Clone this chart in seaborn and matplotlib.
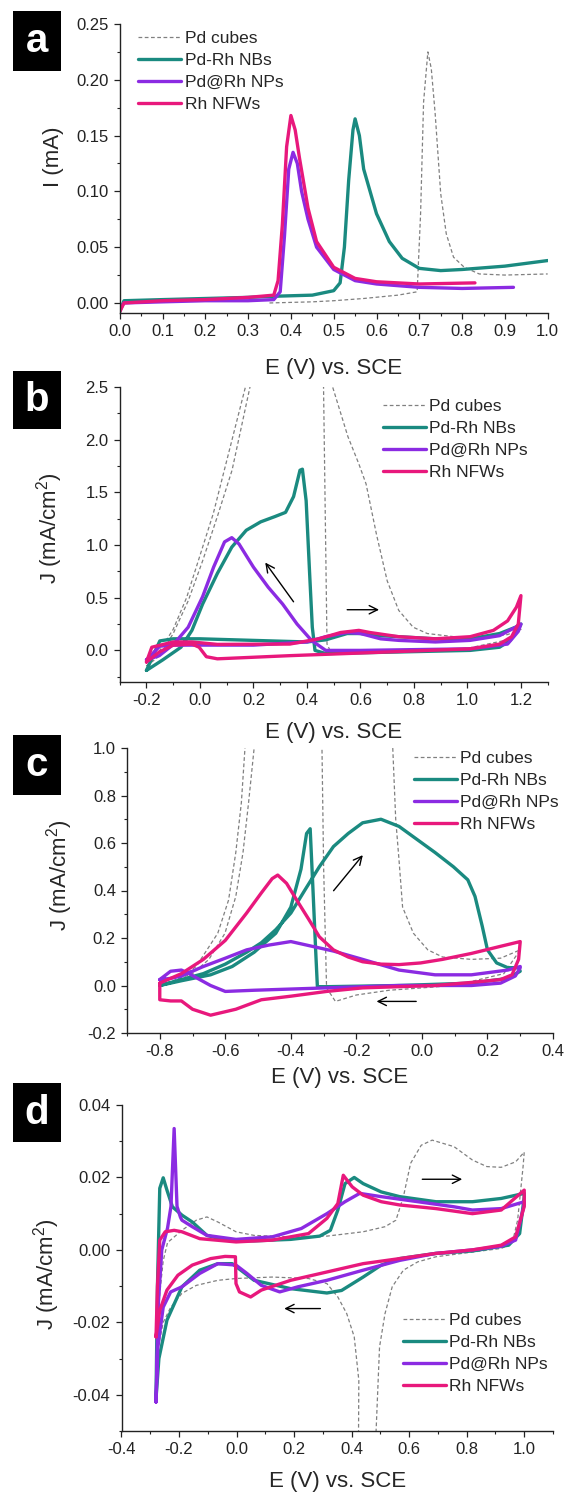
import matplotlib
matplotlib.use("Agg")
import matplotlib.pyplot as plt
from matplotlib.ticker import MultipleLocator, FormatStrFormatter
from matplotlib.patches import Rectangle
import seaborn as sns

# ---- panel a : linear sweeps ----
a_pd_E = [0.35, 0.45, 0.5, 0.57, 0.65, 0.695, 0.703, 0.71, 0.72, 0.728, 0.737, 0.75, 0.763, 0.78, 0.805, 0.84, 0.9, 1.0]
a_pd_I = [0.0, 0.001, 0.002, 0.004, 0.007, 0.01, 0.08, 0.18, 0.225, 0.21, 0.17, 0.098, 0.062, 0.041, 0.032, 0.026, 0.025, 0.026]
a_nb_E = [0.0, 0.01, 0.1, 0.2, 0.3, 0.36, 0.45, 0.5, 0.515, 0.525, 0.535, 0.545, 0.55, 0.56, 0.57, 0.6, 0.63, 0.66, 0.7, 0.75, 0.8, 0.9, 1.0]
a_nb_I = [-0.008, 0.002, 0.003, 0.004, 0.005, 0.006, 0.007, 0.011, 0.018, 0.05, 0.11, 0.155, 0.165, 0.15, 0.12, 0.08, 0.055, 0.04, 0.031, 0.029, 0.030, 0.033, 0.038]
a_np_E = [0.0, 0.01, 0.1, 0.2, 0.3, 0.36, 0.375, 0.385, 0.395, 0.405, 0.415, 0.425, 0.44, 0.46, 0.5, 0.55, 0.6, 0.7, 0.8, 0.92]
a_np_I = [-0.006, 0.0, 0.001, 0.002, 0.002, 0.003, 0.01, 0.06, 0.12, 0.135, 0.125, 0.1, 0.075, 0.05, 0.03, 0.02, 0.017, 0.014, 0.013, 0.014]
a_rh_E = [0.0, 0.01, 0.1, 0.2, 0.3, 0.36, 0.37, 0.38, 0.39, 0.40, 0.41, 0.42, 0.44, 0.46, 0.5, 0.55, 0.6, 0.7, 0.83]
a_rh_I = [-0.008, 0.0, 0.002, 0.003, 0.005, 0.007, 0.02, 0.07, 0.14, 0.168, 0.155, 0.13, 0.085, 0.055, 0.032, 0.022, 0.019, 0.017, 0.018]

# ---- panel b : CV ----
b_pd_E = [-0.2, -0.15, -0.1, -0.044, 0.01, 0.065, 0.12, 0.187, 0.3, 0.4, 0.496, 0.553, 0.594, 0.621, 0.66, 0.70, 0.743, 0.797, 0.85, 0.95, 1.05, 1.15, 1.2,
          1.15, 1.0, 0.8, 0.6, 0.49, 0.475, 0.462, 0.4, 0.3, 0.17, 0.11, 0.05, 0.0, -0.05, -0.1, -0.15, -0.2]
b_pd_J = [-0.15, -0.05, 0.16, 0.47, 0.85, 1.27, 1.71, 2.5, 4.0, 4.0, 2.5, 2.03, 1.77, 1.58, 1.1, 0.66, 0.38, 0.22, 0.16, 0.13, 0.12, 0.15, 0.2,
          0.1, 0.02, 0.0, -0.02, -0.02, 0.06, 2.5, 4.0, 4.0, 2.5, 1.9, 1.3, 0.9, 0.5, 0.2, 0.0, -0.15]
b_nb_E = [-0.2, -0.15, -0.1, 0.0, 0.2, 0.4, 0.47, 0.55, 0.6, 0.675, 0.743, 0.88, 1.01, 1.12, 1.18, 1.2,
          1.19, 1.16, 1.12, 1.01, 0.743, 0.47, 0.43, 0.42, 0.41, 0.397, 0.383, 0.374, 0.35, 0.32, 0.28, 0.227, 0.173, 0.119, 0.065, 0.01, -0.03, -0.071, -0.139, -0.2]
b_nb_J = [-0.19, 0.09, 0.11, 0.11, 0.095, 0.08, 0.1, 0.16, 0.16, 0.14, 0.13, 0.11, 0.11, 0.16, 0.22, 0.25,
          0.2, 0.095, 0.03, 0.0, -0.015, -0.03, 0.0, 0.22, 0.73, 1.42, 1.72, 1.71, 1.46, 1.31, 1.27, 1.22, 1.14, 0.98, 0.73, 0.44, 0.19, 0.03, -0.09, -0.19]
b_np_E = [-0.2, -0.15, -0.1, 0.0, 0.2, 0.4, 0.47, 0.55, 0.6, 0.675, 0.743, 0.88, 1.01, 1.12, 1.18, 1.2,
          1.19, 1.15, 1.01, 0.6, 0.47, 0.417, 0.363, 0.309, 0.255, 0.2, 0.146, 0.119, 0.092, 0.051, 0.01, -0.044, -0.098, -0.152, -0.2]
b_np_J = [-0.09, 0.04, 0.05, 0.05, 0.05, 0.08, 0.13, 0.17, 0.16, 0.11, 0.095, 0.08, 0.095, 0.14, 0.22, 0.25,
          0.18, 0.06, 0.015, 0.0, 0.0, 0.095, 0.25, 0.44, 0.6, 0.79, 1.01, 1.07, 1.03, 0.79, 0.51, 0.22, 0.06, -0.05, -0.09]
b_rh_E = [-0.2, -0.18, -0.1, -0.03, 0.065, 0.336, 0.445, 0.526, 0.594, 0.635, 0.743, 0.88, 1.01, 1.097, 1.15, 1.183, 1.2,
          1.19, 1.165, 1.12, 1.01, 0.6, 0.336, 0.065, 0.024, -0.003, -0.03, -0.1, -0.152, -0.2]
b_rh_J = [-0.11, 0.03, 0.08, 0.08, 0.057, 0.06, 0.11, 0.17, 0.19, 0.17, 0.13, 0.11, 0.13, 0.19, 0.28, 0.41, 0.52,
          0.25, 0.13, 0.06, 0.015, -0.025, -0.05, -0.08, -0.06, 0.03, 0.06, 0.05, -0.015, -0.11]

# ---- panel c : CV ----
c_pd_E = [-0.8, -0.75, -0.689, -0.623, -0.59, -0.568, -0.551, -0.54, -0.45, -0.2, -0.089, -0.08, -0.07, -0.059, -0.026, 0.018, 0.063, 0.151, 0.24, 0.3,
          0.25, 0.1, -0.1, -0.2, -0.264, -0.291, -0.3, -0.305, -0.4, -0.512, -0.529, -0.546, -0.568, -0.601, -0.65, -0.7, -0.8]
c_pd_J = [0.0, 0.02, 0.08, 0.22, 0.36, 0.56, 0.77, 1.0, 1.6, 1.6, 1.0, 0.7, 0.53, 0.33, 0.22, 0.15, 0.12, 0.11, 0.115, 0.15,
          0.05, 0.0, -0.02, -0.04, -0.067, -0.01, 0.5, 1.0, 1.6, 1.0, 0.77, 0.56, 0.375, 0.22, 0.11, 0.05, 0.0]
c_nb_E = [-0.8, -0.734, -0.667, -0.6, -0.535, -0.49, -0.446, -0.4, -0.358, -0.313, -0.27, -0.225, -0.181, -0.125, -0.07, -0.015, 0.04, 0.096, 0.14, 0.162, 0.184, 0.2, 0.228, 0.262, 0.295,
          0.3, 0.262, 0.151, -0.07, -0.291, -0.319, -0.324, -0.333, -0.341, -0.352, -0.369, -0.4, -0.446, -0.512, -0.579, -0.645, -0.734, -0.8]
c_nb_J = [0.0, 0.025, 0.05, 0.09, 0.14, 0.18, 0.235, 0.305, 0.40, 0.50, 0.585, 0.64, 0.685, 0.70, 0.67, 0.615, 0.56, 0.50, 0.445, 0.375, 0.25, 0.15, 0.095, 0.075, 0.075,
          0.06, 0.03, 0.01, 0.0, -0.005, -0.005, 0.14, 0.42, 0.66, 0.64, 0.49, 0.33, 0.22, 0.14, 0.08, 0.045, 0.02, 0.0]
c_np_E = [-0.8, -0.767, -0.734, -0.667, -0.6, -0.535, -0.468, -0.4, -0.335, -0.27, -0.181, -0.07, 0.04, 0.151, 0.262, 0.3,
          0.3, 0.285, 0.24, 0.151, -0.07, -0.291, -0.512, -0.6, -0.645, -0.678, -0.711, -0.734, -0.767, -0.8]
c_np_J = [0.025, 0.03, 0.04, 0.08, 0.115, 0.15, 0.17, 0.185, 0.165, 0.145, 0.11, 0.065, 0.045, 0.045, 0.065, 0.08,
          0.075, 0.04, 0.01, 0.0, 0.0, -0.01, -0.02, -0.025, 0.0, 0.025, 0.05, 0.065, 0.06, 0.025]
c_rh_E = [-0.8, -0.734, -0.667, -0.6, -0.535, -0.49, -0.457, -0.44, -0.413, -0.38, -0.346, -0.313, -0.27, -0.225, -0.181, -0.125, -0.07, -0.004, 0.063, 0.151, 0.24, 0.3,
          0.295, 0.275, 0.24, 0.151, 0.04, -0.181, -0.291, -0.4, -0.49, -0.568, -0.645, -0.7, -0.734, -0.767, -0.8, -0.8]
c_rh_J = [0.01, 0.05, 0.11, 0.19, 0.305, 0.39, 0.45, 0.465, 0.43, 0.355, 0.28, 0.205, 0.15, 0.12, 0.10, 0.09, 0.088, 0.095, 0.11, 0.135, 0.165, 0.185,
          0.11, 0.045, 0.025, 0.013, 0.0, -0.01, -0.025, -0.045, -0.06, -0.1, -0.125, -0.1, -0.065, -0.065, -0.06, 0.01]

# ---- panel d : CV (blank electrolyte) ----
d_pd_E = [-0.28, -0.267, -0.255, -0.24, -0.19, -0.14, -0.103, -0.065, -0.002, 0.061, 0.188, 0.314, 0.44, 0.516, 0.554, 0.58, 0.605, 0.642, 0.68, 0.756, 0.82, 0.87, 0.92, 0.97, 1.0,
          0.996, 0.977, 0.958, 0.92, 0.82, 0.693, 0.63, 0.58, 0.541, 0.516, 0.497, 0.485, 0.45, 0.424, 0.425, 0.409, 0.383, 0.352, 0.314, 0.25, 0.124, -0.002, -0.065, -0.14, -0.19, -0.23, -0.255, -0.28]
d_pd_J = [-0.03, -0.012, -0.003, 0.002, 0.0054, 0.0082, 0.0091, 0.0077, 0.005, 0.004, 0.0036, 0.0038, 0.005, 0.0064, 0.0082, 0.0147, 0.0239, 0.0289, 0.0303, 0.0285, 0.0248, 0.023, 0.0228, 0.0243, 0.027,
          0.023, 0.0082, 0.0018, 0.0004, -0.0006, -0.0019, -0.0033, -0.0056, -0.0102, -0.0176, -0.0268, -0.05, -0.07, -0.05, -0.036, -0.024, -0.0176, -0.013, -0.0093, -0.0079, -0.0075, -0.0079, -0.0084, -0.0098, -0.012, -0.016, -0.02, -0.03]
d_nb_E = [-0.28, -0.275, -0.267, -0.255, -0.242, -0.223, -0.19, -0.154, -0.103, -0.04, 0.061, 0.188, 0.289, 0.326, 0.352, 0.377, 0.409, 0.44, 0.503, 0.567, 0.693, 0.82, 0.92, 1.0,
          1.0, 0.984, 0.946, 0.82, 0.69, 0.567, 0.503, 0.44, 0.365, 0.314, 0.188, 0.061, -0.015, -0.065, -0.128, -0.19, -0.242, -0.27, -0.28]
d_nb_J = [-0.041, -0.01, 0.017, 0.0199, 0.0165, 0.0119, 0.0096, 0.0077, 0.004, 0.0027, 0.0025, 0.0029, 0.0038, 0.0054, 0.011, 0.0183, 0.02, 0.0183, 0.016, 0.0147, 0.0133, 0.0133, 0.0142, 0.0156,
          0.0147, 0.0045, 0.0013, -0.0003, -0.001, -0.0024, -0.0042, -0.0075, -0.0112, -0.0119, -0.0107, -0.0084, -0.0038, -0.0038, -0.0056, -0.0102, -0.0194, -0.03, -0.041]
d_np_E = [-0.28, -0.272, -0.26, -0.24, -0.228, -0.217, -0.207, -0.195, -0.19, -0.154, -0.103, -0.002, 0.124, 0.225, 0.314, 0.377, 0.428, 0.503, 0.63, 0.756, 0.82, 0.92, 1.0,
          1.0, 0.97, 0.92, 0.82, 0.69, 0.567, 0.44, 0.314, 0.213, 0.15, 0.086, 0.036, -0.002, -0.065, -0.128, -0.19, -0.229, -0.255, -0.274, -0.28]
d_np_J = [-0.042, -0.015, 0.0, 0.006, 0.012, 0.0335, 0.012, 0.009, 0.0082, 0.0064, 0.004, 0.0029, 0.0036, 0.0059, 0.01, 0.0133, 0.0156, 0.0147, 0.0133, 0.0119, 0.011, 0.0114, 0.0133,
          0.0125, 0.0027, 0.001, 0.0, -0.001, -0.0029, -0.0056, -0.0084, -0.0102, -0.0116, -0.0098, -0.0065, -0.0042, -0.0038, -0.0065, -0.0102, -0.0116, -0.0158, -0.027, -0.042]
d_rh_E = [-0.28, -0.275, -0.267, -0.248, -0.217, -0.19, -0.128, -0.002, 0.124, 0.25, 0.314, 0.352, 0.371, 0.402, 0.44, 0.503, 0.567, 0.693, 0.82, 0.92, 1.0,
          1.0, 0.97, 0.92, 0.82, 0.69, 0.567, 0.44, 0.314, 0.188, 0.086, 0.049, 0.01, -0.002, -0.004, -0.04, -0.09, -0.154, -0.204, -0.242, -0.267, -0.28]
d_rh_J = [-0.024, -0.01, 0.0027, 0.005, 0.0054, 0.005, 0.0031, 0.0022, 0.0027, 0.0045, 0.0087, 0.0128, 0.0206, 0.0174, 0.0151, 0.0133, 0.0124, 0.0114, 0.010, 0.011, 0.0165,
          0.012, 0.0036, 0.0013, 0.0, -0.001, -0.0024, -0.0038, -0.0061, -0.0084, -0.0111, -0.013, -0.0116, -0.0093, -0.0019, -0.0018, -0.0024, -0.0042, -0.007, -0.0111, -0.0167, -0.024]

labels = ["Pd cubes", "Pd-Rh NBs", "Pd@Rh NPs", "Rh NFWs"]
colors = ["#808080", "#1a8a80", "#8b2be2", "#e8187c"]

sns.set_style("ticks")
plt.rcParams["font.family"] = ["Liberation Sans", "DejaVu Sans"]
plt.rcParams["mathtext.fontset"] = "custom"
plt.rcParams["mathtext.rm"] = "Liberation Sans"
plt.rcParams["axes.unicode_minus"] = False

W, H = 569, 1495
fig = plt.figure(figsize=(W / 100, H / 100), dpi=100)


def pxAxes(left, top, right, bottom):
	return fig.add_axes([left / W, 1 - bottom / H, (right - left) / W, (bottom - top) / H])


def axFormatter(ax, xlim, ylim, xmaj, ymaj, xfmt, yfmt):
	ax.set_xlim(xlim)
	ax.set_ylim(ylim)
	ax.xaxis.set_major_locator(MultipleLocator(xmaj))
	ax.xaxis.set_minor_locator(MultipleLocator(xmaj / 2))
	ax.yaxis.set_major_locator(MultipleLocator(ymaj))
	ax.yaxis.set_minor_locator(MultipleLocator(ymaj / 2))
	ax.xaxis.set_major_formatter(FormatStrFormatter(xfmt))
	ax.yaxis.set_major_formatter(FormatStrFormatter(yfmt))
	ax.tick_params(which="major", direction="out", length=4.5, width=0.9, labelsize=12, color="#222222", labelcolor="#222222")
	ax.tick_params(which="minor", direction="out", length=2.5, width=0.8, color="#222222")
	for s in ["left", "bottom"]:
		ax.spines[s].set_linewidth(1.0)
		ax.spines[s].set_color("#222222")
	sns.despine(ax=ax)
	return ax


def drawSeries(ax, series):
	for (E, J), lab, col in zip(series, labels, colors):
		if lab == "Pd cubes":
			sns.lineplot(x=E, y=J, sort=False, estimator=None, ax=ax, color=col, lw=0.9,
				linestyle=(0, (3, 2)), label=lab)
		else:
			sns.lineplot(x=E, y=J, sort=False, estimator=None, ax=ax, color=col, lw=2.4, label=lab)


def addLegend(ax, x, y):
	ax.legend(loc="upper left", bbox_to_anchor=(x / W, 1 - y / H), bbox_transform=fig.transFigure,
		frameon=False, fontsize=12.5, handlelength=2.5, handletextpad=0.2, labelspacing=0.4,
		borderpad=0, borderaxespad=0)


def addArrow(ax, start, end):
	ax.annotate("", xy=end, xytext=start,
		arrowprops=dict(arrowstyle="->,head_length=0.6,head_width=0.3", lw=1.0, color="black"))


def panelLetter(letter, top, bottom):
	fig.patches.append(Rectangle((13 / W, 1 - bottom / H), 48 / W, (bottom - top) / H,
		transform=fig.transFigure, facecolor="black", edgecolor="none"))
	fig.text(37 / W, 1 - (top + bottom) / 2 / H, letter, color="white", fontsize=29, fontweight="bold",
		ha="center", va="center")


ylab_J = "J (mA/cm$^2$)"
xlab = "E (V) vs. SCE"

# panel a
ax1 = pxAxes(119.7, 24, 547.7, 313)
drawSeries(ax1, [(a_pd_E, a_pd_I), (a_nb_E, a_nb_I), (a_np_E, a_np_I), (a_rh_E, a_rh_I)])
ax1 = axFormatter(ax1, (0.0, 1.0), (-0.009, 0.25), 0.1, 0.05, "%.1f", "%.2f")
addLegend(ax1, 137.8, 30.5)
ax1.set_ylabel("I (mA)", fontsize=16)
ax1.yaxis.set_label_coords(-0.131, 0.54)
ax1.set_xlabel(xlab, fontsize=16)
ax1.xaxis.set_label_coords(0.5, -0.155)
panelLetter("a", 11, 71)

# panel b
ax2 = pxAxes(119.7, 387, 547.7, 682)
drawSeries(ax2, [(b_pd_E, b_pd_J), (b_nb_E, b_nb_J), (b_np_E, b_np_J), (b_rh_E, b_rh_J)])
ax2 = axFormatter(ax2, (-0.3, 1.3), (-0.3, 2.5), 0.2, 0.5, "%.1f", "%.1f")
addLegend(ax2, 382.6, 398.5)
addArrow(ax2, (0.356, 0.44), (0.238, 0.855))
addArrow(ax2, (0.54, 0.386), (0.68, 0.386))
ax2.set_ylabel(ylab_J, fontsize=16)
ax2.yaxis.set_label_coords(-0.127, 0.522)
ax2.set_xlabel(xlab, fontsize=16)
ax2.xaxis.set_label_coords(0.5, -0.136)
panelLetter("b", 371, 429)

# panel c
ax3 = pxAxes(127, 748, 553, 1033)
drawSeries(ax3, [(c_pd_E, c_pd_J), (c_nb_E, c_nb_J), (c_np_E, c_np_J), (c_rh_E, c_rh_J)])
ax3 = axFormatter(ax3, (-0.9, 0.4), (-0.2, 1.0), 0.2, 0.2, "%.1f", "%.1f")
addLegend(ax3, 413.5, 750.5)
addArrow(ax3, (-0.275, 0.39), (-0.175, 0.558))
addArrow(ax3, (-0.009, -0.067), (-0.147, -0.067))
ax3.set_ylabel(ylab_J, fontsize=16)
ax3.yaxis.set_label_coords(-0.123, 0.552)
ax3.set_xlabel(xlab, fontsize=16)
ax3.xaxis.set_label_coords(0.5, -0.119)
panelLetter("c", 735, 795)

# panel d
ax4 = pxAxes(121.5, 1105, 553, 1431)
drawSeries(ax4, [(d_pd_E, d_pd_J), (d_nb_E, d_nb_J), (d_np_E, d_np_J), (d_rh_E, d_rh_J)])
ax4 = axFormatter(ax4, (-0.4, 1.1), (-0.05, 0.04), 0.2, 0.02, "%.1f", "%.2f")
addLegend(ax4, 402.6, 1312.5)
addArrow(ax4, (0.636, 0.0195), (0.794, 0.0195))
addArrow(ax4, (0.301, -0.0162), (0.156, -0.0162))
ax4.set_ylabel(ylab_J, fontsize=16)
ax4.yaxis.set_label_coords(-0.138, 0.482)
ax4.set_xlabel(xlab, fontsize=16)
ax4.xaxis.set_label_coords(0.5, -0.123)
panelLetter("d", 1083, 1142)

fig.savefig("out.png", dpi=100)
